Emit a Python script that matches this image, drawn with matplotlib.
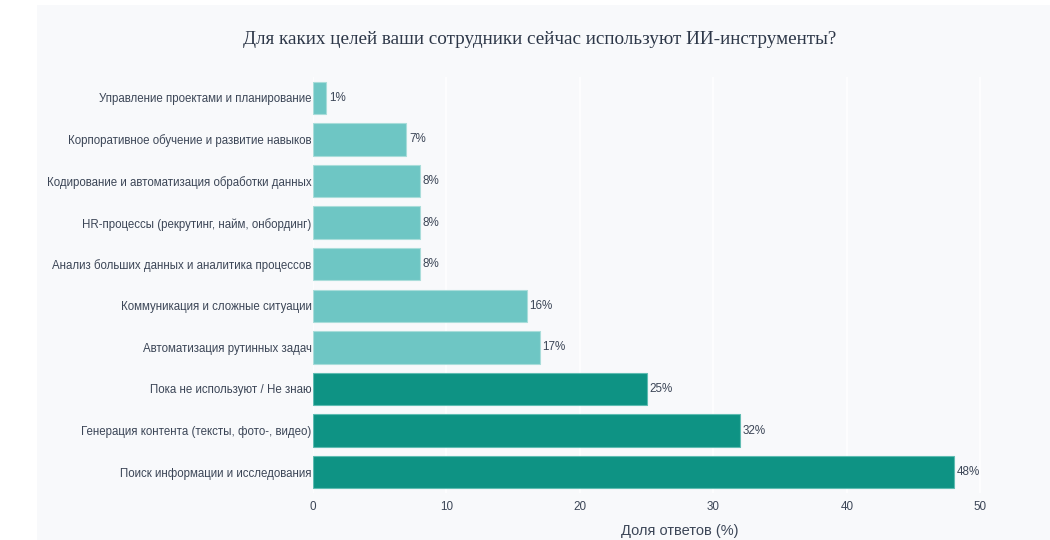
import matplotlib.pyplot as plt
from matplotlib.patches import Rectangle

categories = [
    "Поиск информации и исследования",
    "Генерация контента (тексты, фото-, видео)",
    "Пока не используют / Не знаю",
    "Автоматизация рутинных задач",
    "Коммуникация и сложные ситуации",
    "Анализ больших данных и аналитика процессов",
    "HR-процессы (рекрутинг, найм, онбординг)",
    "Кодирование и автоматизация обработки данных",
    "Корпоративное обучение и развитие навыков",
    "Управление проектами и планирование",
]
values = [48, 32, 25, 17, 16, 8, 8, 8, 7, 1]
top3 = 3

bg = "#f8f9fb"
dark = "#0e9384"
light = "#6ec6c4"
text_col = "#3c4657"

plt.rcParams['font.family'] = ['Liberation Sans', 'DejaVu Sans']

fig = plt.figure(figsize=(10.5, 5.4), dpi=100, facecolor="white")
fig.patches.append(Rectangle((37 / 1050, 0), 1 - 37 / 1050, 1 - 5 / 540,
                             transform=fig.transFigure, facecolor=bg,
                             edgecolor="none", zorder=-10))

# plot area runs past the right edge of the picture (x range 0..55)
ax = fig.add_axes([313 / 1050, 1 - 493 / 540, (1047 - 313) / 1050, (493 - 77) / 540])
ax.set_facecolor(bg)

colors = [dark if i < top3 else light for i in range(len(values))]
edges = ["#5fbcb2" if i < top3 else "#a9ddda" for i in range(len(values))]
y = range(len(values))
ax.barh(y, values, height=0.78, color=colors, edgecolor=edges, linewidth=0.8, zorder=3)

for yi, v in zip(y, values):
    ax.text(v + 0.2, yi, f"{v}%", va="center", ha="left", fontsize=8.4, color=text_col, zorder=4)

ax.set_xlim(0, 55)
ax.set_ylim(-0.5, len(values) - 0.5)
ax.set_xticks([0, 10, 20, 30, 40, 50])
ax.set_yticks(list(y))
ax.set_yticklabels(categories)
ax.tick_params(axis="y", length=0, pad=1, labelsize=8.3, labelcolor=text_col)
ax.tick_params(axis="x", length=0, pad=6, labelsize=8.4, labelcolor=text_col)
ax.grid(axis="x", color="white", linewidth=1.2, zorder=0)
for s in ax.spines.values():
    s.set_visible(False)

ax.set_xlabel("Доля ответов (%)", fontsize=10.5, color=text_col, labelpad=8)

fig.text(540 / 1050, 1 - 40 / 540,
         "Для каких целей ваши сотрудники сейчас используют ИИ-инструменты?",
         ha="center", va="center", fontsize=13.8, color="#2d3748",
         family=["Liberation Serif", "DejaVu Serif"])

fig.savefig("out.png", dpi=100, facecolor="white")
